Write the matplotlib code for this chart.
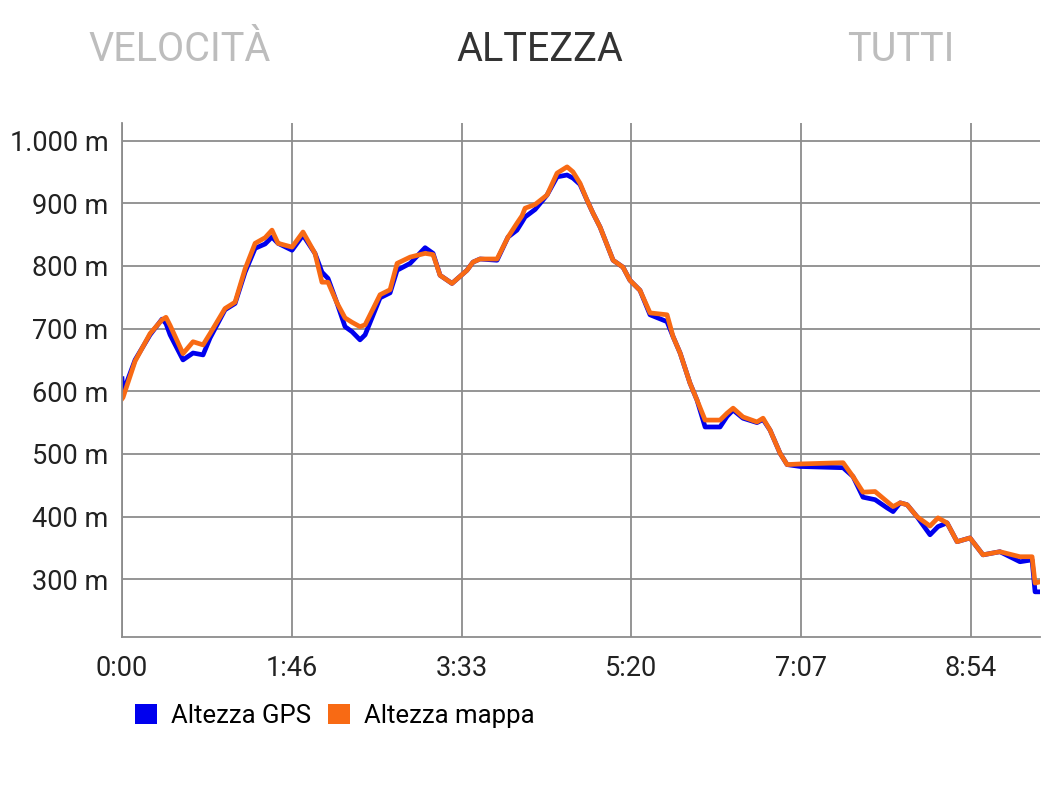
import matplotlib.pyplot as plt
from matplotlib.patches import Patch

plt.rcParams['font.family'] = ['Roboto', 'DejaVu Sans']

# tempo in minuti dall'inizio
minuti = [0.0, 0.6, 8.2, 17.6, 25.1, 27.6, 30.2, 38.3, 44.6, 50.9, 55.3, 64.7, 71.0,
          77.3, 83.6, 89.9, 94.2, 98.0, 106.8, 113.7, 121.2, 125.6, 129.4, 135.0,
          140.1, 144.5, 149.5, 152.7, 162.1, 168.4, 172.8, 181.0, 190.4, 195.4,
          199.8, 207.3, 216.7, 220.5, 224.9, 235.6, 242.5, 248.1, 251.3, 253.2,
          259.5, 267.0, 273.3, 279.6, 283.3, 287.7, 292.1, 295.9, 300.3, 308.5,
          314.7, 319.1, 325.4, 331.7, 342.4, 346.2, 350.6, 356.8, 361.2, 366.3,
          375.7, 380.1, 383.9, 390.1, 398.9, 402.7, 407.1, 413.4, 417.8, 426.0,
          453.0, 459.2, 465.5, 473.1, 480.6, 484.4, 488.8, 493.2, 499.4, 507.6,
          512.6, 518.3, 524.6, 532.7, 540.9, 551.5, 564.1, 571.7, 573.6, 576.7]

altezza_gps = [620, 598, 650, 690, 715, 708, 690, 650, 661, 658, 685, 730, 740,
               790, 828, 835, 846, 836, 825, 849, 820, 790, 780, 741,
               703, 695, 682, 690, 749, 757, 793, 804, 829, 820,
               785, 772, 793, 806, 811, 809, 846, 857, 870, 878,
               890, 913, 942, 945, 940, 930, 905, 884, 862, 809,
               798, 777, 761, 722, 711, 687, 661, 613, 586, 543,
               543, 560, 570, 557, 550, 555, 538, 501, 483, 480,
               478, 464, 431, 427, 414, 408, 422, 419, 400, 371,
               384, 390, 360, 366, 339, 344, 328, 331, 280, 280]

altezza_mappa = [588, 590, 648, 692, 714, 718, 705, 660, 679, 674, 692, 732, 742,
                 795, 836, 845, 857, 836, 830, 854, 820, 774, 774, 741,
                 717, 710, 703, 706, 754, 762, 804, 814, 820, 818,
                 785, 772, 793, 806, 811, 811, 846, 868, 880, 892,
                 898, 913, 948, 958, 950, 932, 905, 884, 862, 809,
                 798, 777, 761, 725, 722, 687, 661, 613, 586, 554,
                 554, 565, 573, 559, 551, 557, 538, 501, 483, 484,
                 486, 464, 439, 440, 424, 416, 422, 419, 400, 385,
                 398, 390, 360, 366, 339, 344, 336, 336, 294, 296]

tick_x = [0, 106.67, 213.33, 320, 426.67, 533.33]
tick_x_lab = ["0:00", "1:46", "3:33", "5:20", "7:07", "8:54"]
tick_y = [300, 400, 500, 600, 700, 800, 900, 1000]
tick_y_lab = ["300 m", "400 m", "500 m", "600 m", "700 m", "800 m", "900 m", "1.000 m"]

blu = "#0000ee"
arancio = "#f86a14"
grigio = "#8c8c8c"

fig = plt.figure(figsize=(10.52, 7.98), dpi=100)
ax = fig.add_axes([0.116, 0.2018, 0.8726, 0.6441])

ax.plot(minuti, altezza_gps, color=blu, lw=3.4, solid_joinstyle='round')
ax.plot(minuti, altezza_mappa, color=arancio, lw=3.4, solid_joinstyle='round')

ax.set_xlim(0, 576.7)
ax.set_ylim(208, 1028)
ax.set_xticks(tick_x)
ax.set_xticklabels(tick_x_lab)
ax.set_yticks(tick_y)
ax.set_yticklabels(tick_y_lab)
ax.tick_params(length=0, labelsize=19.5, colors="#222222")
ax.tick_params(axis='y', pad=10)
ax.tick_params(axis='x', pad=13)
ax.grid(True, color=grigio, lw=1.3)
ax.set_axisbelow(True)
for s in ['top', 'right']:
    ax.spines[s].set_visible(False)
for s in ['left', 'bottom']:
    ax.spines[s].set_color(grigio)
    ax.spines[s].set_linewidth(1.3)

# schede in alto
fig.text(0.171, 0.938, "VELOCITÀ", ha='center', va='center', fontsize=28.5, color="#bdbdbd")
fig.text(0.513, 0.938, "ALTEZZA", ha='center', va='center', fontsize=28.5, color="#333333")
fig.text(0.856, 0.938, "TUTTI", ha='center', va='center', fontsize=28.5, color="#bdbdbd")

handles = [Patch(facecolor=blu, edgecolor='none'), Patch(facecolor=arancio, edgecolor='none')]
fig.legend(handles, ["Altezza GPS", "Altezza mappa"], loc='center left',
           bbox_to_anchor=(0.128, 0.103), ncol=2, frameon=False, fontsize=18.5,
           handlelength=0.86, handleheight=0.86, handletextpad=0.55,
           columnspacing=0.65, borderpad=0, borderaxespad=0)

fig.savefig("out.png", dpi=100, facecolor='white')
